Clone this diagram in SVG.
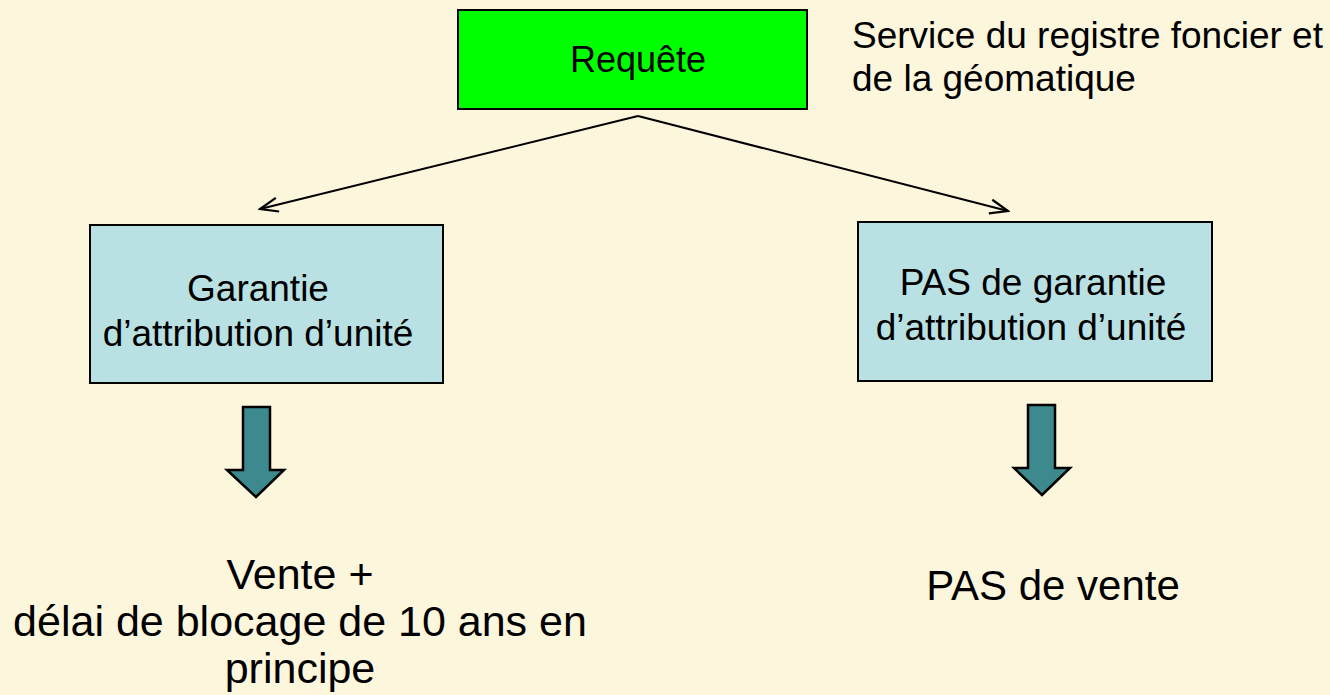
<svg xmlns="http://www.w3.org/2000/svg" width="1330" height="695" viewBox="0 0 1330 695">
<style>
.t{font-family:"Liberation Sans",Arial,sans-serif;fill:#000}
.box{fill:#B9E0E3;stroke:#000;stroke-width:2}
.dn{fill:#3C8A8E;stroke:#000;stroke-width:2.5}
.ln{stroke:#000;stroke-width:2;fill:none}
</style>
<defs>
<marker id="ah" markerWidth="22" markerHeight="18" refX="20" refY="9" orient="auto" markerUnits="userSpaceOnUse">
<path d="M2,2 L20,9 L2,16" fill="none" stroke="#000" stroke-width="2.2"/>
</marker>
</defs>
<rect width="1330" height="695" fill="#FCF6DC"/>
<g id="connectors">
<line class="ln" x1="638" y1="116" x2="260" y2="209" marker-end="url(#ah)"/>
<line class="ln" x1="638" y1="116" x2="1008" y2="211" marker-end="url(#ah)"/>
<polygon class="dn" points="243,407 270,407 270,470 284,470 256,497 227,470 243,470"/>
<polygon class="dn" points="1028,405 1055,405 1055,468 1070,468 1042,495 1014,468 1028,468"/>
</g>
<g id="requete">
<rect x="458" y="10" width="349" height="99" fill="#00FF00" stroke="#000" stroke-width="2"/>
<text class="t" x="638" y="72" font-size="36" text-anchor="middle">Requête</text>
</g>
<g id="service">
<text class="t" x="852" y="48" font-size="37">Service du registre foncier et</text>
<text class="t" x="852" y="91" font-size="37">de la géomatique</text>
</g>
<g id="garantie">
<rect class="box" x="90" y="225" width="353" height="158"/>
<text class="t" x="258" y="301" font-size="37" text-anchor="middle">Garantie</text>
<text class="t" x="258" y="346" font-size="37" text-anchor="middle">d’attribution d’unité</text>
</g>
<g id="pasgarantie">
<rect class="box" x="858" y="222" width="354" height="159"/>
<text class="t" x="1033" y="295" font-size="37" text-anchor="middle">PAS de garantie</text>
<text class="t" x="1031" y="340" font-size="37" text-anchor="middle">d’attribution d’unité</text>
</g>
<g id="vente">
<text class="t" x="300" y="589" font-size="43" text-anchor="middle">Vente +</text>
<text class="t" x="300" y="636" font-size="43" text-anchor="middle">délai de blocage de 10 ans en</text>
<text class="t" x="300" y="683" font-size="43" text-anchor="middle">principe</text>
</g>
<g id="pasvente">
<text class="t" x="1053" y="600" font-size="42" text-anchor="middle">PAS de vente</text>
</g>
</svg>
